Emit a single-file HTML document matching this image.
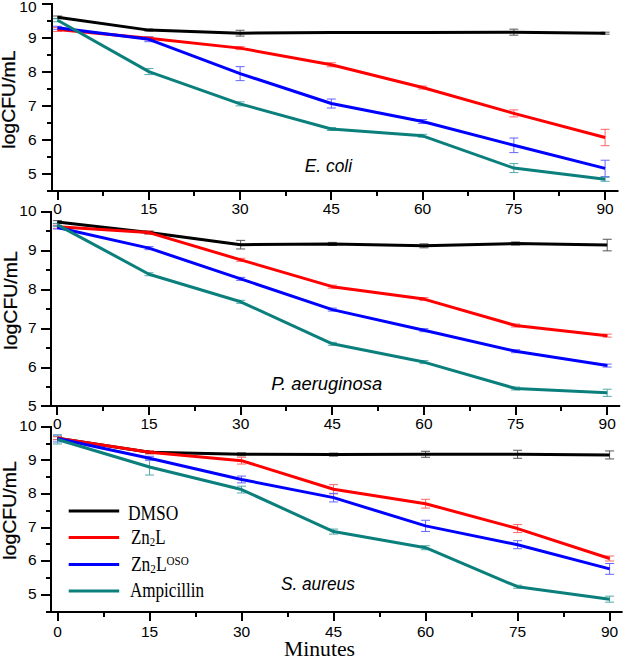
<!DOCTYPE html>
<html><head><meta charset="utf-8"><style>
html,body{margin:0;padding:0;background:#fff;}
body{width:625px;height:658px;overflow:hidden;}
svg{display:block;}
</style></head><body>
<svg width="625" height="658" viewBox="0 0 625 658">
<rect width="625" height="658" fill="#fff"/>
<path d="M52 3V192" stroke="#000" stroke-width="2" fill="none"/>
<path d="M52 191H618.5" stroke="#000" stroke-width="2" fill="none"/>
<path d="M42 4H52" stroke="#000" stroke-width="2"/>
<text x="36.6" y="12" text-anchor="end" font-size="15.5" font-family='"Liberation Sans", sans-serif'>10</text>
<path d="M47 21H52" stroke="#000" stroke-width="2"/>
<path d="M42 38H52" stroke="#000" stroke-width="2"/>
<text x="36.6" y="42.58" text-anchor="end" font-size="15.5" font-family='"Liberation Sans", sans-serif'>9</text>
<path d="M47 55H52" stroke="#000" stroke-width="2"/>
<path d="M42 72H52" stroke="#000" stroke-width="2"/>
<text x="36.6" y="76.56" text-anchor="end" font-size="15.5" font-family='"Liberation Sans", sans-serif'>8</text>
<path d="M47 89H52" stroke="#000" stroke-width="2"/>
<path d="M42 106H52" stroke="#000" stroke-width="2"/>
<text x="36.6" y="110.54" text-anchor="end" font-size="15.5" font-family='"Liberation Sans", sans-serif'>7</text>
<path d="M47 123H52" stroke="#000" stroke-width="2"/>
<path d="M42 140H52" stroke="#000" stroke-width="2"/>
<text x="36.6" y="144.52" text-anchor="end" font-size="15.5" font-family='"Liberation Sans", sans-serif'>6</text>
<path d="M47 157H52" stroke="#000" stroke-width="2"/>
<path d="M42 174H52" stroke="#000" stroke-width="2"/>
<text x="36.6" y="178.5" text-anchor="end" font-size="15.5" font-family='"Liberation Sans", sans-serif'>5</text>
<path d="M47 191H52" stroke="#000" stroke-width="2"/>
<path d="M58 191V200" stroke="#000" stroke-width="2"/>
<text x="57.6" y="213.7" text-anchor="middle" font-size="15.5" font-family='"Liberation Sans", sans-serif'>0</text>
<path d="M103 191V196" stroke="#000" stroke-width="2"/>
<path d="M149 191V200" stroke="#000" stroke-width="2"/>
<text x="148.85" y="213.7" text-anchor="middle" font-size="15.5" font-family='"Liberation Sans", sans-serif'>15</text>
<path d="M194 191V196" stroke="#000" stroke-width="2"/>
<path d="M240 191V200" stroke="#000" stroke-width="2"/>
<text x="240.1" y="213.7" text-anchor="middle" font-size="15.5" font-family='"Liberation Sans", sans-serif'>30</text>
<path d="M286 191V196" stroke="#000" stroke-width="2"/>
<path d="M331 191V200" stroke="#000" stroke-width="2"/>
<text x="331.35" y="213.7" text-anchor="middle" font-size="15.5" font-family='"Liberation Sans", sans-serif'>45</text>
<path d="M377 191V196" stroke="#000" stroke-width="2"/>
<path d="M423 191V200" stroke="#000" stroke-width="2"/>
<text x="422.6" y="213.7" text-anchor="middle" font-size="15.5" font-family='"Liberation Sans", sans-serif'>60</text>
<path d="M468 191V196" stroke="#000" stroke-width="2"/>
<path d="M514 191V200" stroke="#000" stroke-width="2"/>
<text x="513.85" y="213.7" text-anchor="middle" font-size="15.5" font-family='"Liberation Sans", sans-serif'>75</text>
<path d="M559 191V196" stroke="#000" stroke-width="2"/>
<path d="M605 191V200" stroke="#000" stroke-width="2"/>
<text x="605.1" y="213.7" text-anchor="middle" font-size="15.5" font-family='"Liberation Sans", sans-serif'>90</text>
<text transform="translate(9.4 99.6) rotate(-90)" x="0" y="5.8" text-anchor="middle" font-size="17.5" textLength="98.5" stroke="#000" stroke-width="0.25" lengthAdjust="spacingAndGlyphs" font-family='"Liberation Sans", sans-serif'>logCFU/mL</text>
<text x="304.8" y="172" font-size="18" font-style="italic" textLength="47.2" lengthAdjust="spacingAndGlyphs" font-family='"Liberation Sans", sans-serif'>E. coli</text>
<path d="M57.6 16.01V18.41M53.1 16.01H62.1M53.1 18.41H62.1" stroke="#555555" stroke-width="1" fill="none"/>
<path d="M148.85 29.12V31.12M144.35 29.12H153.35M144.35 31.12H153.35" stroke="#555555" stroke-width="1" fill="none"/>
<path d="M240.1 30.28V36.08M235.6 30.28H244.6M235.6 36.08H244.6" stroke="#555555" stroke-width="1" fill="none"/>
<path d="M331.35 31.7V33.3M326.85 31.7H335.85M326.85 33.3H335.85" stroke="#555555" stroke-width="1" fill="none"/>
<path d="M422.6 31.7V33.3M418.1 31.7H427.1M418.1 33.3H427.1" stroke="#555555" stroke-width="1" fill="none"/>
<path d="M513.85 29.16V35.16M509.35 29.16H518.35M509.35 35.16H518.35" stroke="#555555" stroke-width="1" fill="none"/>
<path d="M605.1 32.18V34.18M600.6 32.18H609.6M600.6 34.18H609.6" stroke="#555555" stroke-width="1" fill="none"/>
<path d="M57.6 27.45V31.45M53.1 27.45H62.1M53.1 31.45H62.1" stroke="#ff6666" stroke-width="1" fill="none"/>
<path d="M148.85 36.78V39.78M144.35 36.78H153.35M144.35 39.78H153.35" stroke="#ff6666" stroke-width="1" fill="none"/>
<path d="M240.1 46.63V49.63M235.6 46.63H244.6M235.6 49.63H244.6" stroke="#ff6666" stroke-width="1" fill="none"/>
<path d="M331.35 62.78V66.78M326.85 62.78H335.85M326.85 66.78H335.85" stroke="#ff6666" stroke-width="1" fill="none"/>
<path d="M422.6 86.05V89.05M418.1 86.05H427.1M418.1 89.05H427.1" stroke="#ff6666" stroke-width="1" fill="none"/>
<path d="M513.85 109.88V116.88M509.35 109.88H518.35M509.35 116.88H518.35" stroke="#ff6666" stroke-width="1" fill="none"/>
<path d="M605.1 129.3V145.7M600.6 129.3H609.6M600.6 145.7H609.6" stroke="#ff6666" stroke-width="1" fill="none"/>
<path d="M57.6 26.25V29.25M53.1 26.25H62.1M53.1 29.25H62.1" stroke="#6666ff" stroke-width="1" fill="none"/>
<path d="M148.85 36.9V41.7M144.35 36.9H153.35M144.35 41.7H153.35" stroke="#6666ff" stroke-width="1" fill="none"/>
<path d="M240.1 66.62V80.62M235.6 66.62H244.6M235.6 80.62H244.6" stroke="#6666ff" stroke-width="1" fill="none"/>
<path d="M331.35 99.02V108.02M326.85 99.02H335.85M326.85 108.02H335.85" stroke="#6666ff" stroke-width="1" fill="none"/>
<path d="M422.6 119.53V123.53M418.1 119.53H427.1M418.1 123.53H427.1" stroke="#6666ff" stroke-width="1" fill="none"/>
<path d="M513.85 138.02V152.62M509.35 138.02H518.35M509.35 152.62H518.35" stroke="#6666ff" stroke-width="1" fill="none"/>
<path d="M605.1 160.22V176.62M600.6 160.22H609.6M600.6 176.62H609.6" stroke="#6666ff" stroke-width="1" fill="none"/>
<path d="M57.6 18.77V21.77M53.1 18.77H62.1M53.1 21.77H62.1" stroke="#55aaaa" stroke-width="1" fill="none"/>
<path d="M148.85 68.58V74.58M144.35 68.58H153.35M144.35 74.58H153.35" stroke="#55aaaa" stroke-width="1" fill="none"/>
<path d="M240.1 101.86V105.86M235.6 101.86H244.6M235.6 105.86H244.6" stroke="#55aaaa" stroke-width="1" fill="none"/>
<path d="M331.35 127.51V130.51M326.85 127.51H335.85M326.85 130.51H335.85" stroke="#55aaaa" stroke-width="1" fill="none"/>
<path d="M422.6 134.3V137.3M418.1 134.3H427.1M418.1 137.3H427.1" stroke="#55aaaa" stroke-width="1" fill="none"/>
<path d="M513.85 163.58V172.58M509.35 163.58H518.35M509.35 172.58H518.35" stroke="#55aaaa" stroke-width="1" fill="none"/>
<path d="M605.1 177.3V181.3M600.6 177.3H609.6M600.6 181.3H609.6" stroke="#55aaaa" stroke-width="1" fill="none"/>
<polyline points="57.6,17.21 148.85,30.12 240.1,33.18 331.35,32.5 422.6,32.5 513.85,32.16 605.1,33.18" fill="none" stroke="#000000" stroke-width="3" stroke-linejoin="round"/>
<polyline points="57.6,29.45 148.85,38.28 240.1,48.13 331.35,64.78 422.6,87.55 513.85,113.38 605.1,137.5" fill="none" stroke="#ff0000" stroke-width="3" stroke-linejoin="round"/>
<polyline points="57.6,27.75 148.85,39.3 240.1,73.62 331.35,103.52 422.6,121.53 513.85,145.32 605.1,168.42" fill="none" stroke="#0000ff" stroke-width="3" stroke-linejoin="round"/>
<polyline points="57.6,20.27 148.85,71.58 240.1,103.86 331.35,129.01 422.6,135.8 513.85,168.08 605.1,179.3" fill="none" stroke="#0a7f7c" stroke-width="3" stroke-linejoin="round"/>
<path d="M51 211V407" stroke="#000" stroke-width="2" fill="none"/>
<path d="M51 406H620.2" stroke="#000" stroke-width="2" fill="none"/>
<path d="M41 212H51" stroke="#000" stroke-width="2"/>
<text x="36.6" y="216.3" text-anchor="end" font-size="15.5" font-family='"Liberation Sans", sans-serif'>10</text>
<path d="M46 231H51" stroke="#000" stroke-width="2"/>
<path d="M41 251H51" stroke="#000" stroke-width="2"/>
<text x="36.6" y="255.18" text-anchor="end" font-size="15.5" font-family='"Liberation Sans", sans-serif'>9</text>
<path d="M46 270H51" stroke="#000" stroke-width="2"/>
<path d="M41 290H51" stroke="#000" stroke-width="2"/>
<text x="36.6" y="294.06" text-anchor="end" font-size="15.5" font-family='"Liberation Sans", sans-serif'>8</text>
<path d="M46 309H51" stroke="#000" stroke-width="2"/>
<path d="M41 329H51" stroke="#000" stroke-width="2"/>
<text x="36.6" y="332.94" text-anchor="end" font-size="15.5" font-family='"Liberation Sans", sans-serif'>7</text>
<path d="M46 348H51" stroke="#000" stroke-width="2"/>
<path d="M41 368H51" stroke="#000" stroke-width="2"/>
<text x="36.6" y="371.82" text-anchor="end" font-size="15.5" font-family='"Liberation Sans", sans-serif'>6</text>
<path d="M46 387H51" stroke="#000" stroke-width="2"/>
<path d="M41 406H51" stroke="#000" stroke-width="2"/>
<text x="36.6" y="410.7" text-anchor="end" font-size="15.5" font-family='"Liberation Sans", sans-serif'>5</text>
<path d="M57 406V415" stroke="#000" stroke-width="2"/>
<text x="57.4" y="428.9" text-anchor="middle" font-size="15.5" font-family='"Liberation Sans", sans-serif'>0</text>
<path d="M103 406V411" stroke="#000" stroke-width="2"/>
<path d="M149 406V415" stroke="#000" stroke-width="2"/>
<text x="149.03" y="428.9" text-anchor="middle" font-size="15.5" font-family='"Liberation Sans", sans-serif'>15</text>
<path d="M195 406V411" stroke="#000" stroke-width="2"/>
<path d="M241 406V415" stroke="#000" stroke-width="2"/>
<text x="240.67" y="428.9" text-anchor="middle" font-size="15.5" font-family='"Liberation Sans", sans-serif'>30</text>
<path d="M286 406V411" stroke="#000" stroke-width="2"/>
<path d="M332 406V415" stroke="#000" stroke-width="2"/>
<text x="332.3" y="428.9" text-anchor="middle" font-size="15.5" font-family='"Liberation Sans", sans-serif'>45</text>
<path d="M378 406V411" stroke="#000" stroke-width="2"/>
<path d="M424 406V415" stroke="#000" stroke-width="2"/>
<text x="423.93" y="428.9" text-anchor="middle" font-size="15.5" font-family='"Liberation Sans", sans-serif'>60</text>
<path d="M470 406V411" stroke="#000" stroke-width="2"/>
<path d="M516 406V415" stroke="#000" stroke-width="2"/>
<text x="515.57" y="428.9" text-anchor="middle" font-size="15.5" font-family='"Liberation Sans", sans-serif'>75</text>
<path d="M561 406V411" stroke="#000" stroke-width="2"/>
<path d="M607 406V415" stroke="#000" stroke-width="2"/>
<text x="607.2" y="428.9" text-anchor="middle" font-size="15.5" font-family='"Liberation Sans", sans-serif'>90</text>
<text transform="translate(11.6 300.4) rotate(-90)" x="0" y="5.8" text-anchor="middle" font-size="17.5" textLength="98.5" stroke="#000" stroke-width="0.25" lengthAdjust="spacingAndGlyphs" font-family='"Liberation Sans", sans-serif'>logCFU/mL</text>
<text x="271.2" y="389.8" font-size="18" font-style="italic" textLength="111" lengthAdjust="spacingAndGlyphs" font-family='"Liberation Sans", sans-serif'>P. aeruginosa</text>
<path d="M57.4 220.61V223.61M52.9 220.61H61.9M52.9 223.61H61.9" stroke="#555555" stroke-width="1" fill="none"/>
<path d="M149.03 231.11V234.11M144.53 231.11H153.53M144.53 234.11H153.53" stroke="#555555" stroke-width="1" fill="none"/>
<path d="M240.67 240.36V248.96M236.17 240.36H245.17M236.17 248.96H245.17" stroke="#555555" stroke-width="1" fill="none"/>
<path d="M332.3 242.38V245.38M327.8 242.38H336.8M327.8 245.38H336.8" stroke="#555555" stroke-width="1" fill="none"/>
<path d="M423.93 243.83V247.83M419.43 243.83H428.43M419.43 247.83H428.43" stroke="#555555" stroke-width="1" fill="none"/>
<path d="M515.57 241.99V244.99M511.07 241.99H520.07M511.07 244.99H520.07" stroke="#555555" stroke-width="1" fill="none"/>
<path d="M607.2 239.25V250.85M602.7 239.25H611.7M602.7 250.85H611.7" stroke="#555555" stroke-width="1" fill="none"/>
<path d="M57.4 225.27V228.27M52.9 225.27H61.9M52.9 228.27H61.9" stroke="#ff6666" stroke-width="1" fill="none"/>
<path d="M149.03 231.11V234.11M144.53 231.11H153.53M144.53 234.11H153.53" stroke="#ff6666" stroke-width="1" fill="none"/>
<path d="M240.67 258.32V261.32M236.17 258.32H245.17M236.17 261.32H245.17" stroke="#ff6666" stroke-width="1" fill="none"/>
<path d="M332.3 285.15V288.15M327.8 285.15H336.8M327.8 288.15H336.8" stroke="#ff6666" stroke-width="1" fill="none"/>
<path d="M423.93 297.59V300.59M419.43 297.59H428.43M419.43 300.59H428.43" stroke="#ff6666" stroke-width="1" fill="none"/>
<path d="M515.57 324.03V327.03M511.07 324.03H520.07M511.07 327.03H520.07" stroke="#ff6666" stroke-width="1" fill="none"/>
<path d="M607.2 334.14V337.14M602.7 334.14H611.7M602.7 337.14H611.7" stroke="#ff6666" stroke-width="1" fill="none"/>
<path d="M57.4 226.05V229.05M52.9 226.05H61.9M52.9 229.05H61.9" stroke="#6666ff" stroke-width="1" fill="none"/>
<path d="M149.03 246.66V249.66M144.53 246.66H153.53M144.53 249.66H153.53" stroke="#6666ff" stroke-width="1" fill="none"/>
<path d="M240.67 277.37V280.37M236.17 277.37H245.17M236.17 280.37H245.17" stroke="#6666ff" stroke-width="1" fill="none"/>
<path d="M332.3 308.09V311.09M327.8 308.09H336.8M327.8 311.09H336.8" stroke="#6666ff" stroke-width="1" fill="none"/>
<path d="M423.93 328.7V331.7M419.43 328.7H428.43M419.43 331.7H428.43" stroke="#6666ff" stroke-width="1" fill="none"/>
<path d="M515.57 349.69V352.69M511.07 349.69H520.07M511.07 352.69H520.07" stroke="#6666ff" stroke-width="1" fill="none"/>
<path d="M607.2 364.08V367.08M602.7 364.08H611.7M602.7 367.08H611.7" stroke="#6666ff" stroke-width="1" fill="none"/>
<path d="M57.4 223.33V226.33M52.9 223.33H61.9M52.9 226.33H61.9" stroke="#55aaaa" stroke-width="1" fill="none"/>
<path d="M149.03 272.71V275.71M144.53 272.71H153.53M144.53 275.71H153.53" stroke="#55aaaa" stroke-width="1" fill="none"/>
<path d="M240.67 300.31V303.31M236.17 300.31H245.17M236.17 303.31H245.17" stroke="#55aaaa" stroke-width="1" fill="none"/>
<path d="M332.3 342.3V345.3M327.8 342.3H336.8M327.8 345.3H336.8" stroke="#55aaaa" stroke-width="1" fill="none"/>
<path d="M423.93 360.58V363.58M419.43 360.58H428.43M419.43 363.58H428.43" stroke="#55aaaa" stroke-width="1" fill="none"/>
<path d="M515.57 387.02V390.02M511.07 387.02H520.07M511.07 390.02H520.07" stroke="#55aaaa" stroke-width="1" fill="none"/>
<path d="M607.2 389.19V396.39M602.7 389.19H611.7M602.7 396.39H611.7" stroke="#55aaaa" stroke-width="1" fill="none"/>
<polyline points="57.4,222.11 149.03,232.61 240.67,244.66 332.3,243.88 423.93,245.83 515.57,243.49 607.2,245.05" fill="none" stroke="#000000" stroke-width="3" stroke-linejoin="round"/>
<polyline points="57.4,226.77 149.03,232.61 240.67,259.82 332.3,286.65 423.93,299.09 515.57,325.53 607.2,335.64" fill="none" stroke="#ff0000" stroke-width="3" stroke-linejoin="round"/>
<polyline points="57.4,227.55 149.03,248.16 240.67,278.87 332.3,309.59 423.93,330.2 515.57,351.19 607.2,365.58" fill="none" stroke="#0000ff" stroke-width="3" stroke-linejoin="round"/>
<polyline points="57.4,224.83 149.03,274.21 240.67,301.81 332.3,343.8 423.93,362.08 515.57,388.52 607.2,392.79" fill="none" stroke="#0a7f7c" stroke-width="3" stroke-linejoin="round"/>
<path d="M51 426V613" stroke="#000" stroke-width="2" fill="none"/>
<path d="M51 612H622.6" stroke="#000" stroke-width="2" fill="none"/>
<path d="M41 427H51" stroke="#000" stroke-width="2"/>
<text x="36.6" y="431" text-anchor="end" font-size="15.5" font-family='"Liberation Sans", sans-serif'>10</text>
<path d="M46 444H51" stroke="#000" stroke-width="2"/>
<path d="M41 460H51" stroke="#000" stroke-width="2"/>
<text x="36.6" y="464.62" text-anchor="end" font-size="15.5" font-family='"Liberation Sans", sans-serif'>9</text>
<path d="M46 477H51" stroke="#000" stroke-width="2"/>
<path d="M41 494H51" stroke="#000" stroke-width="2"/>
<text x="36.6" y="498.24" text-anchor="end" font-size="15.5" font-family='"Liberation Sans", sans-serif'>8</text>
<path d="M46 511H51" stroke="#000" stroke-width="2"/>
<path d="M41 528H51" stroke="#000" stroke-width="2"/>
<text x="36.6" y="531.86" text-anchor="end" font-size="15.5" font-family='"Liberation Sans", sans-serif'>7</text>
<path d="M46 544H51" stroke="#000" stroke-width="2"/>
<path d="M41 561H51" stroke="#000" stroke-width="2"/>
<text x="36.6" y="565.48" text-anchor="end" font-size="15.5" font-family='"Liberation Sans", sans-serif'>6</text>
<path d="M46 578H51" stroke="#000" stroke-width="2"/>
<path d="M41 595H51" stroke="#000" stroke-width="2"/>
<text x="36.6" y="599.1" text-anchor="end" font-size="15.5" font-family='"Liberation Sans", sans-serif'>5</text>
<path d="M46 612H51" stroke="#000" stroke-width="2"/>
<path d="M58 612V621" stroke="#000" stroke-width="2"/>
<text x="57.5" y="637.3" text-anchor="middle" font-size="15.5" font-family='"Liberation Sans", sans-serif'>0</text>
<path d="M104 612V617" stroke="#000" stroke-width="2"/>
<path d="M150 612V621" stroke="#000" stroke-width="2"/>
<text x="149.52" y="637.3" text-anchor="middle" font-size="15.5" font-family='"Liberation Sans", sans-serif'>15</text>
<path d="M196 612V617" stroke="#000" stroke-width="2"/>
<path d="M242 612V621" stroke="#000" stroke-width="2"/>
<text x="241.53" y="637.3" text-anchor="middle" font-size="15.5" font-family='"Liberation Sans", sans-serif'>30</text>
<path d="M288 612V617" stroke="#000" stroke-width="2"/>
<path d="M334 612V621" stroke="#000" stroke-width="2"/>
<text x="333.55" y="637.3" text-anchor="middle" font-size="15.5" font-family='"Liberation Sans", sans-serif'>45</text>
<path d="M380 612V617" stroke="#000" stroke-width="2"/>
<path d="M426 612V621" stroke="#000" stroke-width="2"/>
<text x="425.57" y="637.3" text-anchor="middle" font-size="15.5" font-family='"Liberation Sans", sans-serif'>60</text>
<path d="M472 612V617" stroke="#000" stroke-width="2"/>
<path d="M518 612V621" stroke="#000" stroke-width="2"/>
<text x="517.58" y="637.3" text-anchor="middle" font-size="15.5" font-family='"Liberation Sans", sans-serif'>75</text>
<path d="M564 612V617" stroke="#000" stroke-width="2"/>
<path d="M610 612V621" stroke="#000" stroke-width="2"/>
<text x="609.6" y="637.3" text-anchor="middle" font-size="15.5" font-family='"Liberation Sans", sans-serif'>90</text>
<text transform="translate(10.6 510.5) rotate(-90)" x="0" y="5.8" text-anchor="middle" font-size="17.5" textLength="98.5" stroke="#000" stroke-width="0.25" lengthAdjust="spacingAndGlyphs" font-family='"Liberation Sans", sans-serif'>logCFU/mL</text>
<text x="280.9" y="589.9" font-size="18" font-style="italic" textLength="73.9" lengthAdjust="spacingAndGlyphs" font-family='"Liberation Sans", sans-serif'>S. aureus</text>
<path d="M57.5 436.63V439.63M53 436.63H62M53 439.63H62" stroke="#555555" stroke-width="1" fill="none"/>
<path d="M149.52 450.75V453.75M145.02 450.75H154.02M145.02 453.75H154.02" stroke="#555555" stroke-width="1" fill="none"/>
<path d="M241.53 452.77V455.77M237.03 452.77H246.03M237.03 455.77H246.03" stroke="#555555" stroke-width="1" fill="none"/>
<path d="M333.55 453.1V456.1M329.05 453.1H338.05M329.05 456.1H338.05" stroke="#555555" stroke-width="1" fill="none"/>
<path d="M425.57 451.27V457.27M421.07 451.27H430.07M421.07 457.27H430.07" stroke="#555555" stroke-width="1" fill="none"/>
<path d="M517.58 450.27V458.27M513.08 450.27H522.08M513.08 458.27H522.08" stroke="#555555" stroke-width="1" fill="none"/>
<path d="M609.6 450.94V458.94M605.1 450.94H614.1M605.1 458.94H614.1" stroke="#555555" stroke-width="1" fill="none"/>
<path d="M57.5 436.63V439.63M53 436.63H62M53 439.63H62" stroke="#ff6666" stroke-width="1" fill="none"/>
<path d="M149.52 450.75V453.75M145.02 450.75H154.02M145.02 453.75H154.02" stroke="#ff6666" stroke-width="1" fill="none"/>
<path d="M241.53 457.26V464.06M237.03 457.26H246.03M237.03 464.06H246.03" stroke="#ff6666" stroke-width="1" fill="none"/>
<path d="M333.55 484.63V493.83M329.05 484.63H338.05M329.05 493.83H338.05" stroke="#ff6666" stroke-width="1" fill="none"/>
<path d="M425.57 499.29V508.09M421.07 499.29H430.07M421.07 508.09H430.07" stroke="#ff6666" stroke-width="1" fill="none"/>
<path d="M517.58 524.57V532.57M513.08 524.57H522.08M513.08 532.57H522.08" stroke="#ff6666" stroke-width="1" fill="none"/>
<path d="M609.6 555.99V560.99M605.1 555.99H614.1M605.1 560.99H614.1" stroke="#ff6666" stroke-width="1" fill="none"/>
<path d="M57.5 434.97V441.97M53 434.97H62M53 441.97H62" stroke="#6666ff" stroke-width="1" fill="none"/>
<path d="M149.52 456.3V460.3M145.02 456.3H154.02M145.02 460.3H154.02" stroke="#6666ff" stroke-width="1" fill="none"/>
<path d="M241.53 476.08V482.88M237.03 476.08H246.03M237.03 482.88H246.03" stroke="#6666ff" stroke-width="1" fill="none"/>
<path d="M333.55 493.34V501.94M329.05 493.34H338.05M329.05 501.94H338.05" stroke="#6666ff" stroke-width="1" fill="none"/>
<path d="M425.57 520.28V531.48M421.07 520.28H430.07M421.07 531.48H430.07" stroke="#6666ff" stroke-width="1" fill="none"/>
<path d="M517.58 540.71V548.71M513.08 540.71H522.08M513.08 548.71H522.08" stroke="#6666ff" stroke-width="1" fill="none"/>
<path d="M609.6 563.51V574.31M605.1 563.51H614.1M605.1 574.31H614.1" stroke="#6666ff" stroke-width="1" fill="none"/>
<path d="M57.5 434.98V443.98M53 434.98H62M53 443.98H62" stroke="#55aaaa" stroke-width="1" fill="none"/>
<path d="M149.52 459.04V475.04M145.02 459.04H154.02M145.02 475.04H154.02" stroke="#55aaaa" stroke-width="1" fill="none"/>
<path d="M241.53 486.17V492.97M237.03 486.17H246.03M237.03 492.97H246.03" stroke="#55aaaa" stroke-width="1" fill="none"/>
<path d="M333.55 529.09V534.09M329.05 529.09H338.05M329.05 534.09H338.05" stroke="#55aaaa" stroke-width="1" fill="none"/>
<path d="M425.57 545.73V549.73M421.07 545.73H430.07M421.07 549.73H430.07" stroke="#55aaaa" stroke-width="1" fill="none"/>
<path d="M517.58 585.23V588.23M513.08 585.23H522.08M513.08 588.23H522.08" stroke="#55aaaa" stroke-width="1" fill="none"/>
<path d="M609.6 596.17V602.17M605.1 596.17H614.1M605.1 602.17H614.1" stroke="#55aaaa" stroke-width="1" fill="none"/>
<polyline points="57.5,438.13 149.52,452.25 241.53,454.27 333.55,454.6 425.57,454.27 517.58,454.27 609.6,454.94" fill="none" stroke="#000000" stroke-width="3" stroke-linejoin="round"/>
<polyline points="57.5,438.13 149.52,452.25 241.53,460.66 333.55,489.23 425.57,503.69 517.58,528.57 609.6,558.49" fill="none" stroke="#ff0000" stroke-width="3" stroke-linejoin="round"/>
<polyline points="57.5,438.47 149.52,458.3 241.53,479.48 333.55,497.64 425.57,525.88 517.58,544.71 609.6,568.91" fill="none" stroke="#0000ff" stroke-width="3" stroke-linejoin="round"/>
<polyline points="57.5,439.48 149.52,467.04 241.53,489.57 333.55,531.59 425.57,547.73 517.58,586.73 609.6,599.17" fill="none" stroke="#0a7f7c" stroke-width="3" stroke-linejoin="round"/>
<path d="M68.7 511H119.2" stroke="#000000" stroke-width="3"/>
<text x="127.9" y="519.6" font-size="20.5" font-family='"Liberation Serif", serif' textLength="50.4" lengthAdjust="spacingAndGlyphs">DMSO</text>
<path d="M68.7 537.6H119.2" stroke="#ff0000" stroke-width="3"/>
<text x="130.9" y="544.3" font-size="20.5" font-family='"Liberation Serif", serif' textLength="34.6" lengthAdjust="spacingAndGlyphs">Zn<tspan font-size="13" dy="2">2</tspan><tspan dy="-2">L</tspan></text>
<path d="M68.7 564.4H119.2" stroke="#0000ff" stroke-width="3"/>
<text x="130.9" y="570.8" font-size="20.5" font-family='"Liberation Serif", serif' textLength="57.9" lengthAdjust="spacingAndGlyphs">Zn<tspan font-size="13" dy="2">2</tspan><tspan dy="-2">L</tspan><tspan font-size="13" dy="-6">OSO</tspan></text>
<path d="M68.7 590.9H119.2" stroke="#0a7f7c" stroke-width="3"/>
<text x="129.9" y="596.7" font-size="20.5" font-family='"Liberation Serif", serif' textLength="74.1" lengthAdjust="spacingAndGlyphs">Ampicillin</text>
<text x="284" y="655.5" font-size="22" font-family='"Liberation Serif", serif' textLength="71" lengthAdjust="spacingAndGlyphs">Minutes</text>
</svg>
</body></html>
